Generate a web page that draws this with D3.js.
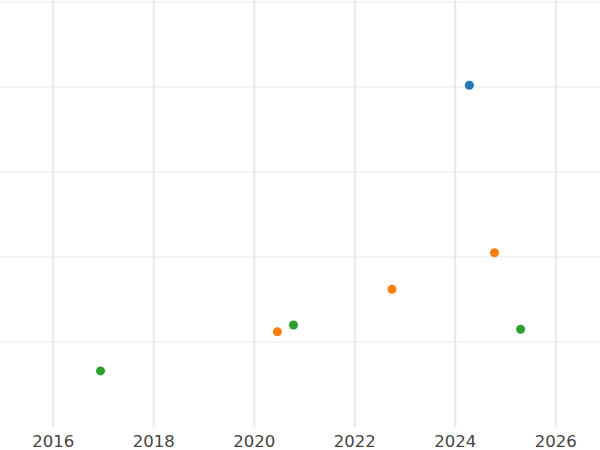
<!DOCTYPE html><html><head><meta charset="utf-8">
<script src="https://cdn.jsdelivr.net/npm/d3@7"></script>
<style>body{margin:0;background:#fff}</style></head><body>
<svg id="c" width="600" height="450"></svg>
<script>
const xTicks=[2016,2018,2020,2022,2024,2026];
const yTicks=[1,2,3,4,5];
const blueX=[2024.28], blueY=[4.02];
const orangeX=[2020.46,2022.74,2024.78], orangeY=[1.12,1.62,2.05];
const greenX=[2016.94,2020.78,2025.3], greenY=[0.66,1.2,1.15];
const svg=d3.select("#c");
const x=d3.scaleLinear().domain([2014.94,2026.88]).range([0,600]);
const y=d3.scaleLinear().domain([0,5]).range([427,2]);
svg.append("g").selectAll("line").data(yTicks).join("line")
 .attr("x1",0).attr("x2",600).attr("y1",d=>y(d)).attr("y2",d=>y(d))
 .attr("stroke","#f0f0f0").attr("stroke-width",1.5);
svg.append("g").selectAll("line").data(xTicks).join("line")
 .attr("x1",d=>x(d)).attr("x2",d=>x(d)).attr("y1",0).attr("y2",427)
 .attr("stroke","#e8e8e8").attr("stroke-width",2);
svg.append("g").selectAll("text").data(xTicks).join("text")
 .attr("x",d=>x(d)).attr("y",447).attr("text-anchor","middle")
 .attr("font-family","DejaVu Sans").attr("font-size",16.5).attr("fill","#444").text(d=>d);
function pts(xs,ys,c){svg.append("g").selectAll("circle").data(xs).join("circle")
 .attr("cx",d=>x(d)).attr("cy",(d,i)=>y(ys[i])).attr("r",4.5).attr("fill",c);}
pts(blueX,blueY,"#1f77b4");pts(orangeX,orangeY,"#ff7f0e");pts(greenX,greenY,"#2ca02c");
</script></body></html>
